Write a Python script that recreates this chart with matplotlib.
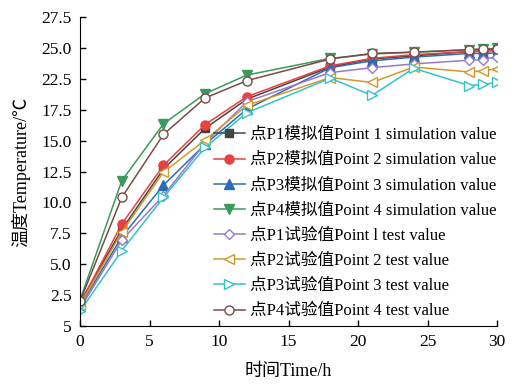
import matplotlib
matplotlib.use("Agg")
from matplotlib import pyplot as plt

plt.rcParams['font.family'] = ['Liberation Serif', 'Noto Sans CJK SC', 'DejaVu Sans']
plt.rcParams['font.size'] = 11

# time points (h)
t = [0, 3, 6, 9, 12, 18, 21, 24, 28, 29, 30]

# simulated temperatures
p1_sim = [4.4, 10.3, 15.2, 18.5, 20.85, 23.45, 24.1, 24.35, 24.7, 24.75, 24.8]
p2_sim = [4.3, 10.75, 15.5, 18.8, 21.05, 23.55, 24.15, 24.45, 24.7, 24.75, 24.8]
p3_sim = [4.1, 9.7, 13.9, 17.2, 20.05, 23.4, 23.95, 24.25, 24.55, 24.55, 24.6]
p4_sim = [4.6, 14.25, 18.85, 21.3, 22.8, 24.15, 24.5, 24.65, 24.85, 24.9, 24.95]

# measured temperatures
p1_test = [3.9, 9.45, 13.05, 17.3, 20.65, 23.0, 23.4, 23.7, 24.0, 24.05, 24.3]
p2_test = [4.2, 10.1, 14.95, 17.55, 20.35, 22.6, 22.2, 23.45, 23.05, 23.15, 23.3]
p3_test = [3.7, 8.6, 12.9, 16.95, 19.75, 22.55, 21.15, 23.35, 21.95, 22.05, 22.2]
p4_test = [4.5, 12.9, 18.0, 20.95, 22.35, 24.1, 24.55, 24.65, 24.85, 24.9, 24.9]

labels = ['点P1模拟值Point 1 simulation value',
          '点P2模拟值Point 2 simulation value',
          '点P3模拟值Point 3 simulation value',
          '点P4模拟值Point 4 simulation value',
          '点P1试验值Point l test value',
          '点P2试验值Point 2 test value',
          '点P3试验值Point 3 test value',
          '点P4试验值Point 4 test value']

# y tick labels as printed on the original figure
yticks = [2.5, 5, 7.5, 10, 12.5, 15, 17.5, 20, 22.5, 25, 27.5]
ytick_labels = ['5', '2.5', '5.0', '7.5', '10.0', '12.5', '15.0', '17.5', '22.5', '25.0', '27.5']

fig = plt.figure(figsize=(5.3, 3.85), dpi=100)
ax = fig.add_axes([0.151, 0.153, 0.787, 0.803])

ax.plot(t, p1_sim, color='#444444', marker='s', ms=5.5, lw=1.1, label=labels[0])
ax.plot(t, p2_sim, color='#e8413f', marker='o', ms=6.5, lw=1.1, label=labels[1])
ax.plot(t, p3_sim, color='#2b6cb8', marker='^', ms=6.5, lw=1.1, label=labels[2])
ax.plot(t, p4_sim, color='#3a9a5c', marker='v', ms=6.5, lw=1.1, label=labels[3])
ax.plot(t, p1_test, color='#9a7ac8', marker='D', ms=5.5, lw=1.1, mfc='white', label=labels[4])
ax.plot(t, p2_test, color='#d3982c', marker='<', ms=7, lw=1.1, mfc='white', label=labels[5])
ax.plot(t, p3_test, color='#33c3c6', marker='>', ms=7, lw=1.1, mfc='white', label=labels[6])
ax.plot(t, p4_test, color='#7a4b47', marker='o', ms=6.5, lw=1.1, mfc='white', label=labels[7])

ax.set_xlim(0, 30)
ax.set_ylim(2.5, 27.5)
ax.set_xticks([0, 5, 10, 15, 20, 25, 30])
ax.set_yticks(yticks)
ax.set_yticklabels(ytick_labels)
ax.tick_params(direction='in', length=4, width=1, labelsize=12.5, pad=6)
ax.spines['top'].set_visible(False)
ax.spines['right'].set_visible(False)
ax.set_xlabel('时间Time/h', fontsize=13, labelpad=9)
ax.set_ylabel('温度Temperature/℃', fontsize=13, labelpad=8)

ax.legend(loc='lower right', bbox_to_anchor=(1.015, 0.0), frameon=False,
          handlelength=1.9, handletextpad=0.3, labelspacing=0.55,
          borderaxespad=0.0, fontsize=12)

fig.savefig('out.png', dpi=100)
